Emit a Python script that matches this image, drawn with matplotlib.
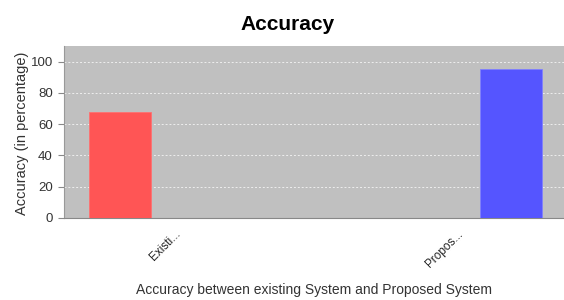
import matplotlib
matplotlib.use("Agg")
import matplotlib.pyplot as plt

categories = ["Existi...", "Propos..."]
series_names = ["Existing System", "Proposed System"]
values = [68, 95]
colors = ["#FF5555", "#5555FF"]

plt.rcParams['font.family'] = ['Liberation Sans', 'DejaVu Sans']

fig = plt.figure(figsize=(5.64, 3.0), dpi=100)
ax = fig.add_axes([64/564, 1-218/300, 500/564, (218-46)/300])
ax.set_facecolor("#C0C0C0")

offset = 0.193
width = 0.219
cat_pos = list(range(len(categories)))
bar_pos = [cat_pos[0] - offset, cat_pos[1] + offset]
for x, v, c in zip(bar_pos, values, colors):
    ax.bar(x, v, width=width, color=c, edgecolor="#8080ff" if c == "#5555FF" else "#ff7070",
           linewidth=0.6, zorder=3)

ax.set_xlim(-0.39, 1.38)
ax.set_ylim(0, 110)
ax.set_yticks([0, 20, 40, 60, 80, 100])
ax.set_xticks(cat_pos)
ax.set_xticklabels(categories, rotation=45, ha="right", va="top",
                   rotation_mode="anchor", fontsize=8.5, color="#222222")
ax.tick_params(axis="x", length=0, pad=7)
ax.tick_params(axis="y", length=4, width=0.8, color="#888888", labelsize=9.5,
               labelcolor="#333333", pad=4)
ax.yaxis.grid(True, color="#eeeeee", linestyle=(0, (2, 2)), linewidth=0.7, zorder=1)
ax.set_axisbelow(True)
for s in ["top", "right"]:
    ax.spines[s].set_visible(False)
ax.spines["left"].set_color("#999999")
ax.spines["bottom"].set_color("#888888")

ax.set_ylabel("Accuracy (in percentage)", fontsize=10.5, color="#333333")
ax.yaxis.set_label_coords(29/564, 1-133/300, transform=fig.transFigure)
ax.set_xlabel("Accuracy between existing System and Proposed System", fontsize=10,
              color="#333333")
ax.xaxis.set_label_coords(314/564, 1-283/300, transform=fig.transFigure)

fig.text(288/564, 1-24/300, "Accuracy", ha="center", va="center",
         fontsize=15, fontweight="bold", color="black")

fig.savefig("out.png", dpi=100)
